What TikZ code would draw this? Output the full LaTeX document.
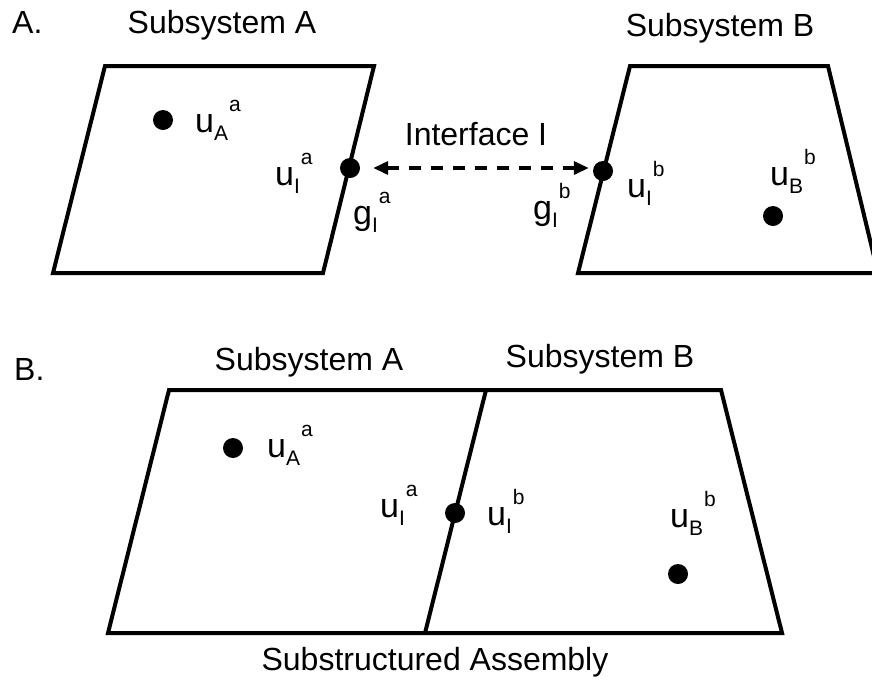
\documentclass[tikz,border=0pt]{standalone}
\usepackage{fontspec}
\setmainfont{Liberation Sans}
\usetikzlibrary{arrows.meta}
\newcommand{\ulab}[3]{#1\raisebox{-8pt}{\fontsize{21}{21}\selectfont #2}\kern1pt\raisebox{21pt}{\fontsize{21}{21}\selectfont #3}}
\begin{document}
\begin{tikzpicture}[x=1pt,y=-1pt,
  outline/.style={line width=4pt, line join=miter},
  dot/.style={circle, fill=black, minimum size=20pt, inner sep=0pt},
  title/.style={anchor=base, inner sep=0pt, font=\fontsize{32}{32}\selectfont},
  lab/.style={anchor=base west, inner sep=0pt, font=\fontsize{34}{34}\selectfont}]
\useasboundingbox (0,0) rectangle (872,681);
% ---- Part A ----
\node[title, anchor=base west] (tA) at (12,33) {A.};
\node[title] (sA1) at (222,33) {Subsystem A};
\node[title] (sB1) at (720,36) {Subsystem B};
\draw[outline] (105,66) -- (374,66) -- (323,273) -- (53,273) -- cycle;
\draw[outline] (630,66) -- (828,66) -- (878,273) -- (578,273) -- cycle;
\node[dot] (dA1) at (163,120) {};
\node[dot] (dIa1) at (350,168) {};
\node[dot] (dIb1) at (603,171) {};
\node[dot] (dB1) at (773,216) {};
\node[lab] (lA1) at (195,132) {\ulab{u}{A}{a}};
\node[lab] (lIa1) at (275,185) {\ulab{u}{I}{a}};
\node[lab] (gIa1) at (353,224) {\ulab{g}{I}{a}};
\node[lab] (lIb1) at (627,197) {\ulab{u}{I}{b}};
\node[lab] (gIb1) at (533,219) {\ulab{g}{I}{b}};
\node[lab] (lB1) at (770,185) {\ulab{u}{B}{b}};
\node[title] (ifc) at (476,145) {Interface I};
\draw[line width=3.5pt, dash pattern=on 12pt off 10pt, {Triangle[length=15pt,width=13pt]}-{Triangle[length=15pt,width=13pt]}, shorten <=13pt, shorten >=4pt]
  (dIa1.east) -- (dIb1.west |- dIa1.east);
% ---- Part B ----
\node[title, anchor=base west] (tB) at (14,380) {B.};
\node[title] (sA2) at (309,370) {Subsystem A};
\node[title] (sB2) at (600,367) {Subsystem B};
\draw[outline] (169,390) -- (721,390) -- (782,633) -- (108,633) -- cycle;
\draw[outline] (486,390) -- (425,633);
\node[dot] (dA2) at (233,448) {};
\node[dot] (dI2) at (455,513) {};
\node[dot] (dB2) at (678,574) {};
\node[lab] (lA2) at (267,457) {\ulab{u}{A}{a}};
\node[lab] (lIa2) at (380,517) {\ulab{u}{I}{a}};
\node[lab] (lIb2) at (487,525) {\ulab{u}{I}{b}};
\node[lab] (lB2) at (670,527) {\ulab{u}{B}{b}};
\node[title] (asm) at (435,670) {Substructured Assembly};
\end{tikzpicture}
\end{document}
